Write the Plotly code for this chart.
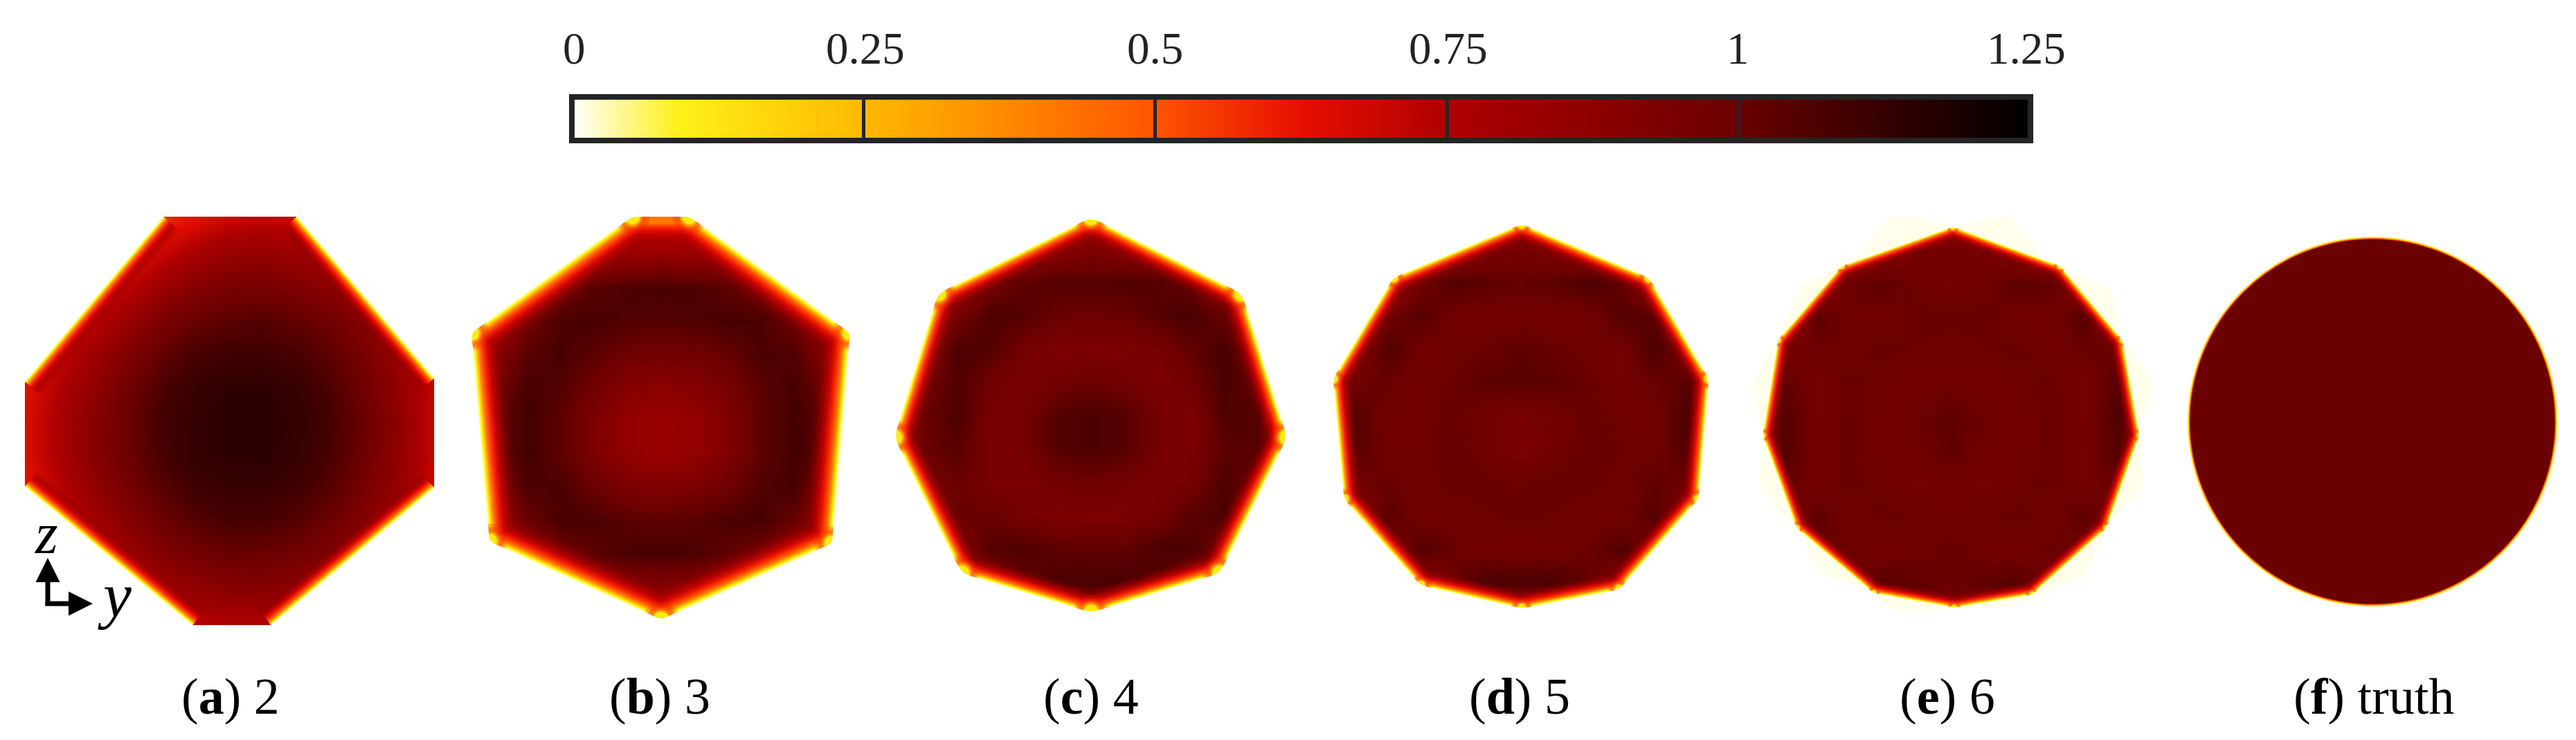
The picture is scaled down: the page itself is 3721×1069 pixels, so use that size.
import plotly.graph_objects as go

# colour ramp (value / 1.25, colour)
COLOR_STOPS = [
    (0.0, 'rgb(255,255,255)'), (0.073, 'rgb(255,240,25)'), (0.2, 'rgb(255,185,0)'),
    (0.4, 'rgb(255,85,0)'), (0.5, 'rgb(230,15,0)'), (0.6, 'rgb(175,0,0)'),
    (0.8, 'rgb(106,0,0)'), (1.0, 'rgb(0,0,0)'),
]
TICK_VALUES = [0, 0.25, 0.5, 0.75, 1, 1.25]
TICK_LABELS = ['0', '0.25', '0.5', '0.75', '1', '1.25']

# y / z sample positions of the fields, truth radius = 1
GRID_Y = [-1.08, -0.9, -0.72, -0.54, -0.36, -0.18, 0, 0.18, 0.36, 0.54, 0.72, 0.9, 1.08]
GRID_Z = [1.08, 0.9, 0.72, 0.54, 0.36, 0.18, 0, -0.18, -0.36, -0.54, -0.72, -0.9, -1.08]
GRID_F = [-0.7, 0, 0.7]

FIELD_A = [
    [.55, .55, .55, .55, .58, .64, .70, .72, .70, .64, .58, .55, .55],
    [.55, .55, .55, .60, .70, .78, .84, .85, .82, .76, .68, .58, .55],
    [.55, .55, .62, .72, .82, .90, .95, .96, .93, .88, .80, .70, .58],
    [.55, .62, .72, .84, .94, 1.00, 1.04, 1.05, 1.02, .98, .90, .78, .64],
    [.60, .70, .82, .92, 1.02, 1.08, 1.10, 1.10, 1.08, 1.03, .95, .84, .70],
    [.64, .76, .86, .98, 1.07, 1.12, 1.14, 1.14, 1.12, 1.07, .98, .86, .72],
    [.66, .78, .90, 1.00, 1.09, 1.13, 1.15, 1.15, 1.13, 1.09, 1.00, .88, .72],
    [.66, .78, .90, 1.00, 1.08, 1.13, 1.14, 1.15, 1.12, 1.08, .99, .87, .72],
    [.62, .74, .86, .96, 1.05, 1.10, 1.12, 1.12, 1.10, 1.05, .96, .85, .70],
    [.56, .68, .80, .90, .99, 1.05, 1.08, 1.08, 1.05, .99, .91, .80, .64],
    [.55, .58, .70, .82, .91, .97, 1.00, 1.00, .97, .92, .84, .72, .58],
    [.55, .55, .60, .72, .80, .86, .90, .90, .88, .82, .74, .62, .55],
    [.55, .55, .55, .60, .68, .74, .76, .76, .74, .70, .62, .55, .55],
]
FIELD_B = [
    [.58, .58, .58, .58, .58, .58, .58, .58, .58, .58, .58, .58, .58],
    [.58, .60, .66, .72, .78, .82, .84, .83, .80, .76, .68, .60, .58],
    [.58, .67, .82, .97, 1.04, 1.07, 1.08, 1.07, 1.03, .96, .84, .68, .58],
    [.60, .78, .97, 1.07, 1.08, 1.06, 1.05, 1.06, 1.08, 1.07, .98, .80, .62],
    [.67, .88, 1.04, 1.08, 1.03, .98, .97, .98, 1.01, 1.07, 1.06, .90, .68],
    [.72, .96, 1.08, 1.05, .97, .90, .88, .90, .95, 1.04, 1.08, .98, .72],
    [.77, 1.00, 1.09, 1.03, .93, .85, .83, .85, .92, 1.03, 1.09, 1.02, .77],
    [.78, 1.00, 1.09, 1.03, .93, .86, .83, .85, .92, 1.03, 1.09, 1.03, .78],
    [.70, .92, 1.07, 1.07, 1.00, .94, .92, .94, .99, 1.06, 1.08, .93, .70],
    [.63, .80, .99, 1.08, 1.07, 1.04, 1.03, 1.04, 1.07, 1.08, 1.00, .82, .63],
    [.58, .67, .82, .96, 1.03, 1.07, 1.08, 1.07, 1.02, .96, .84, .68, .58],
    [.58, .60, .66, .75, .84, .88, .90, .88, .83, .75, .66, .60, .58],
    [.55, .55, .58, .60, .62, .65, .67, .65, .62, .60, .58, .55, .55],
]
FIELD_C = [
    [.62, .62, .62, .62, .64, .68, .70, .68, .64, .62, .62, .62, .62],
    [.62, .62, .66, .74, .82, .88, .92, .88, .82, .74, .66, .62, .62],
    [.62, .67, .80, .96, 1.03, 1.05, 1.05, 1.06, 1.05, 1.00, .84, .68, .62],
    [.64, .76, .96, 1.07, 1.05, 1.00, .99, 1.00, 1.05, 1.08, 1.00, .78, .64],
    [.70, .88, 1.07, 1.05, .96, .93, .93, .93, .95, 1.02, 1.08, .92, .70],
    [.74, .96, 1.06, .98, .94, .97, 1.00, .97, .93, .98, 1.08, 1.00, .74],
    [.77, 1.00, 1.07, .95, .96, 1.05, 1.07, 1.05, .96, .93, 1.06, 1.05, .78],
    [.77, 1.00, 1.04, .94, .96, 1.05, 1.07, 1.05, .96, .93, 1.04, 1.05, .78],
    [.73, .95, 1.00, .95, .93, .97, .99, .97, .93, .96, 1.06, 1.00, .74],
    [.68, .86, 1.00, 1.00, .96, .93, .93, .93, .96, 1.04, 1.07, .90, .68],
    [.62, .74, .92, 1.05, 1.06, 1.03, 1.02, 1.02, 1.07, 1.07, .96, .76, .62],
    [.62, .62, .76, .92, 1.03, 1.07, 1.07, 1.08, 1.05, .94, .78, .62, .62],
    [.60, .60, .62, .70, .78, .85, .88, .85, .78, .70, .62, .60, .60],
]
FIELD_D = [
    [.64, .64, .64, .64, .65, .68, .72, .68, .65, .64, .64, .64, .64],
    [.62, .62, .66, .74, .84, .93, .96, .93, .85, .74, .66, .62, .62],
    [.62, .67, .78, .98, 1.06, 1.03, 1.01, 1.03, 1.07, 1.02, .82, .68, .62],
    [.64, .76, .98, 1.05, .97, .96, .97, .96, .97, 1.05, 1.04, .78, .64],
    [.68, .90, 1.06, .97, .98, 1.00, 1.03, 1.00, .98, .96, 1.07, .94, .68],
    [.74, .98, 1.00, .97, 1.00, 1.03, 1.03, 1.03, 1.00, .96, 1.00, 1.04, .74],
    [.76, 1.05, .97, .98, 1.00, .97, .95, .97, 1.00, .98, .97, 1.07, .76],
    [.75, 1.04, .98, .98, 1.01, .97, .93, .97, 1.01, .99, .98, 1.06, .76],
    [.72, .97, 1.00, .98, 1.00, 1.00, .99, 1.00, 1.00, .98, 1.02, .99, .72],
    [.66, .86, 1.04, .97, .98, .99, 1.00, .99, .98, .97, 1.05, .86, .66],
    [.63, .72, .92, 1.06, .99, .97, .96, .97, .99, 1.06, .94, .74, .63],
    [.62, .62, .72, .87, 1.00, 1.07, 1.07, 1.07, 1.02, .90, .74, .62, .62],
    [.60, .60, .62, .66, .74, .79, .82, .79, .74, .66, .62, .60, .60],
]
FIELD_E = [
    [.66, .66, .66, .66, .68, .72, .76, .72, .68, .66, .66, .66, .66],
    [.64, .64, .68, .78, .90, .96, .98, .96, .90, .78, .68, .64, .64],
    [.64, .70, .84, 1.00, 1.03, .98, .96, .98, 1.03, 1.02, .86, .72, .64],
    [.65, .81, 1.03, .98, .97, 1.00, 1.00, 1.00, .97, .97, 1.05, .84, .65],
    [.73, .96, .99, .98, 1.00, .99, .98, .99, 1.00, .97, 1.00, 1.00, .73],
    [.78, 1.02, .95, 1.00, .98, .96, .98, .96, .98, 1.00, .95, 1.04, .78],
    [.82, 1.05, .96, 1.00, .97, .99, 1.03, .99, .97, 1.00, .96, 1.06, .82],
    [.80, 1.05, .96, 1.00, .97, .98, 1.02, .98, .97, 1.00, .96, 1.05, .80],
    [.76, 1.02, .96, 1.00, .98, .96, .97, .96, .98, 1.00, .96, 1.02, .76],
    [.70, .92, 1.03, .97, 1.00, .99, .98, .99, 1.00, .97, 1.03, .92, .70],
    [.65, .76, .98, 1.00, .96, .98, 1.00, .98, .96, 1.00, .98, .78, .65],
    [.64, .64, .77, .95, 1.05, 1.02, 1.00, 1.02, 1.05, .95, .77, .64, .64],
    [.62, .62, .64, .72, .83, .90, .93, .90, .83, .72, .64, .62, .62],
]
FIELD_F = [[1, 1, 1], [1, 1, 1], [1, 1, 1]]

# outlines of the reconstructions, clockwise from the top
OUTLINE_A = [(-.356, 1.105), (.367, 1.105), (1.109, .232), (1.109, -.363),
             (.228, -1.105), (-.199, -1.105), (-1.105, -.356), (-1.105, .213)]
OUTLINE_B = [(-.157, 1.105), (.154, 1.105), (1.022, .476), (.925, -.663),
             (0, -1.075), (-.929, -.652), (-1.026, .476)]
OUTLINE_C = [(0, 1.071), (.816, .659), (1.06, -.12), (.697, -.854),
             (0, -1.067), (-.70, -.854), (-1.064, -.12), (-.828, .659)]
OUTLINE_D = [(0, 1.039), (.689, .749), (1.013, .202), (.957, -.449), (.528, -.938),
             (0, -1.041), (-.547, -.916), (-.961, -.449), (-1.02, .202), (-.694, .749)]
OUTLINE_E = [(.011, 1.032), (.592, .82), (.929, .419), (1.021, -.097), (.843, -.599), (.441, -.959),
             (.018, -1.03), (-.419, -.951), (-.835, -.599), (-1.019, -.097), (-.936, .419), (-.592, .82)]
# faint halo around panel e
HALO_E = [(-.333, 1.086), (-.161, 1.079), (.011, 1.032), (.21, 1.079), (.326, 1.086), (.498, .861), (.727, .749),
          (.858, .704), (.914, .446), (1.101, .176), (1.015, -.097), (1.041, -.386), (.843, -.584), (.727, -.858),
          (.442, -.974), (.296, -1.03), (.037, -1.03), (-.277, -1.06), (-.449, -.929), (-.706, -.843), (-.835, -.599),
          (-1.036, -.386), (-1.022, -.097), (-1.079, .176), (-.936, .419), (-.82, .704), (-.592, .82), (-.506, .876)]

CAPTION_LETTERS = ['a', 'b', 'c', 'd', 'e', 'f']
CAPTION_NAMES = ['2', '3', '4', '5', '6', 'truth']

# layout, in pixels of the picture
W, H = 3721, 1069
UNIT = 267
CENTERS = [(331, 608), (955, 608), (1576, 600), (2198, 601), (2818, 603), (3427, 609)]
HALF = [1.2, 1.2, 1.2, 1.2, 1.2, 1.10]
CAPTION_X = [333, 953, 1576, 2195, 2813, 3429]
TICK_X = [829, 1250, 1668, 2092, 2510, 2927]
SKIP_EDGES = [[0, 2, 4, 6], [0], [], [], [], []]
# panels whose cut edges still get the deep part of the rim, without the yellow
DEEP_ON_CUT = [False, True, False, False, False]
RIM_SCALE = [0.9, 1.4, 1.0, 0.8, 0.6]
BLOB_SCALE = [0, 1.5, 1.5, 0.9, 0.6]
CORNER_CUT = [0, .03, .05, .04, .03]
RIM_LAYERS = [
    (32, 'rgb(130,0,0)', .15), (29, 'rgb(150,0,0)', .2), (26, 'rgb(170,0,0)', .28), (23, 'rgb(190,0,0)', .38),
    (20, 'rgb(205,5,0)', .5), (17, 'rgb(220,15,0)', .65), (14.5, 'rgb(235,25,0)', .8), (12.5, 'rgb(245,40,0)', 1),
    (10.5, 'rgb(255,65,0)', 1), (9, 'rgb(255,90,0)', 1), (7.5, 'rgb(255,120,0)', 1), (6, 'rgb(255,150,0)', 1),
    (5, 'rgb(255,180,0)', 1), (4, 'rgb(255,210,0)', 1), (3, 'rgb(255,235,15)', 1), (2, 'rgb(255,250,60)', 1),
    (1, 'rgb(255,255,140)', 1),
]
BLOB_LAYERS = [(34, 'rgb(240,35,0)', .25), (28, 'rgb(255,60,0)', .4), (23, 'rgb(255,110,0)', .6),
               (19, 'rgb(255,170,0)', .85), (15, 'rgb(255,235,20)', 1)]
SERIF = 'Liberation Serif'

fields = [FIELD_A, FIELD_B, FIELD_C, FIELD_D, FIELD_E]
outlines = [OUTLINE_A, OUTLINE_B, OUTLINE_C, OUTLINE_D, OUTLINE_E]


def path_of(points):
    return 'M ' + ' L '.join('{},{}'.format(a, b) for a, b in points) + ' Z'


def rounded_path(points, cut):
    # straight edges, corners eased with a short quadratic
    if cut == 0:
        return path_of(points)
    n = len(points)
    parts = []
    for i in range(n):
        px, py = points[i - 1]
        x, y = points[i]
        nx, ny = points[(i + 1) % n]
        d0 = ((x - px) ** 2 + (y - py) ** 2) ** .5
        d1 = ((nx - x) ** 2 + (ny - y) ** 2) ** .5
        a = (x + (px - x) * cut / d0, y + (py - y) * cut / d0)
        b = (x + (nx - x) * cut / d1, y + (ny - y) * cut / d1)
        parts.append('{} {:.4f},{:.4f} Q {},{} {:.4f},{:.4f}'.format('M' if i == 0 else 'L', a[0], a[1], x, y, b[0], b[1]))
    return ' '.join(parts) + ' Z'


def mask_path(half, hole):
    # outer box runs the other way round than the outline, so the outline stays open
    box = [(-half, half), (-half, -half), (half, -half), (half, half)]
    return path_of(box) + ' ' + hole


def rim_segments(outline, skip):
    xs, ys = [], []
    n = len(outline)
    for i in range(n):
        if i in skip:
            continue
        a, b = outline[i], outline[(i + 1) % n]
        xs += [a[0], b[0], None]
        ys += [a[1], b[1], None]
    return xs, ys


fig = go.Figure()
layout_axes = {}
for i in range(6):
    name = '' if i == 0 else str(i + 1)
    cx, cy = CENTERS[i]
    half = HALF[i]
    layout_axes['xaxis' + name] = dict(domain=[(cx - half * UNIT) / W, (cx + half * UNIT) / W],
                                       range=[-half, half], visible=False, anchor='y' + name)
    layout_axes['yaxis' + name] = dict(domain=[1 - (cy + half * UNIT) / H, 1 - (cy - half * UNIT) / H],
                                       range=[-half, half], visible=False, anchor='x' + name)

for i, field in enumerate(fields):
    name = '' if i == 0 else str(i + 1)
    fig.add_trace(go.Heatmap(x=GRID_Y, y=GRID_Z, z=field, coloraxis='coloraxis', zsmooth='best',
                             xaxis='x' + name, yaxis='y' + name, hoverinfo='skip'))
    for inside, color, alpha in RIM_LAYERS:
        skip = [] if DEEP_ON_CUT[i] and inside >= 7.5 else SKIP_EDGES[i]
        xs, ys = rim_segments(outlines[i], skip)
        fig.add_trace(go.Scatter(x=xs, y=ys, mode='lines', opacity=alpha, hoverinfo='skip', showlegend=False,
                                 line=dict(color=color, width=2 * inside * RIM_SCALE[i]),
                                 xaxis='x' + name, yaxis='y' + name))
    if i > 0:
        for size, color, alpha in BLOB_LAYERS:
            fig.add_trace(go.Scatter(x=[p[0] for p in outlines[i]], y=[p[1] for p in outlines[i]], mode='markers',
                                     opacity=alpha, hoverinfo='skip', showlegend=False,
                                     marker=dict(color=color, size=size * BLOB_SCALE[i], line_width=0),
                                     xaxis='x' + name, yaxis='y' + name))
    fig.add_shape(type='path', path=mask_path(HALF[i], rounded_path(outlines[i], CORNER_CUT[i])),
                  xref='x' + name, yref='y' + name, fillcolor='white', line_width=0, layer='above')

# pale halo of panel e, the outline reversed keeps the field visible
fig.add_shape(type='path', path=path_of(HALO_E) + ' ' + rounded_path(OUTLINE_E[::-1], CORNER_CUT[4]), xref='x5', yref='y5',
              fillcolor='rgb(255,255,236)', line_width=0, layer='above')

# thick rim strokes overrun the panel boxes a little, white bands hide that
for y0, y1 in [(230, 300), (908, 965)]:
    fig.add_shape(type='rect', xref='paper', yref='paper', x0=0, x1=1, y0=1 - y1 / H, y1=1 - y0 / H,
                  fillcolor='white', line_width=0, layer='above')

# truth panel
k = 0.5523
circle = ('M 0,1 C {k},1 1,{k} 1,0 C 1,-{k} {k},-1 0,-1 C -{k},-1 -1,-{k} -1,0 C -1,{k} -{k},1 0,1 Z').format(k=k)
fig.add_trace(go.Heatmap(x=GRID_F, y=GRID_F, z=FIELD_F, coloraxis='coloraxis',
                         xaxis='x6', yaxis='y6', hoverinfo='skip'))
for width, color in [(7, 'rgb(255,70,0)'), (4, 'rgb(255,225,30)')]:
    fig.add_shape(type='circle', x0=-1, x1=1, y0=-1, y1=1, xref='x6', yref='y6',
                  line=dict(color=color, width=width), layer='above')
fig.add_shape(type='path', path=mask_path(HALF[5], circle), xref='x6', yref='y6',
              fillcolor='white', line_width=0, layer='above')

annotations = []
for x, label in zip(TICK_X, TICK_LABELS):
    annotations.append(dict(x=x / W, y=1 - 70 / H, xref='paper', yref='paper', text=label, showarrow=False,
                            xanchor='center', yanchor='middle',
                            font=dict(family=SERIF, size=65, color='rgb(35,35,35)')))
for x, letter, caption in zip(CAPTION_X, CAPTION_LETTERS, CAPTION_NAMES):
    annotations.append(dict(x=x / W, y=1 - 1006 / H, xref='paper', yref='paper',
                            text='(<b>{}</b>) {}'.format(letter, caption), showarrow=False,
                            xanchor='center', yanchor='middle', font=dict(family=SERIF, size=74, color='black')))

# y / z direction marker in panel a
annotations.append(dict(x=134 / W, y=1 - 872 / H, ax=-70, ay=0, xref='paper', yref='paper', text='', showarrow=True,
                        arrowhead=2, arrowsize=1, arrowwidth=7, arrowcolor='black'))
annotations.append(dict(x=69 / W, y=1 - 806 / H, ax=0, ay=70, xref='paper', yref='paper', text='', showarrow=True,
                        arrowhead=2, arrowsize=1, arrowwidth=7, arrowcolor='black'))
annotations.append(dict(x=67 / W, y=1 - 770 / H, xref='paper', yref='paper', text='<i>z</i>', showarrow=False,
                        xanchor='center', yanchor='middle', font=dict(family=SERIF, size=84, color='black')))
annotations.append(dict(x=165 / W, y=1 - 860 / H, xref='paper', yref='paper', text='<i>y</i>', showarrow=False,
                        xanchor='center', yanchor='middle', font=dict(family=SERIF, size=92, color='black')))

fig.update_layout(
    width=W, height=H, margin=dict(l=0, r=0, t=0, b=0), paper_bgcolor='white', plot_bgcolor='white',
    showlegend=False, annotations=annotations,
    coloraxis=dict(
        cmin=0, cmax=1.25, colorscale=[list(s) for s in COLOR_STOPS],
        colorbar=dict(orientation='h', lenmode='pixels', len=2107, thicknessmode='pixels', thickness=63,
                      x=826 / W, xanchor='left', xref='paper', y=1 - 140 / H, yanchor='top', yref='paper',
                      xpad=0, ypad=0, outlinewidth=8, outlinecolor='rgb(37,37,37)', borderwidth=0,
                      tickmode='array', tickvals=TICK_VALUES, ticks='inside', ticklen=63, tickwidth=5,
                      tickcolor='rgb(37,37,37)', showticklabels=False)),
    **layout_axes)

fig.write_html("out.html", post_script="document.body.style.margin='0';", config={'displayModeBar': False})
